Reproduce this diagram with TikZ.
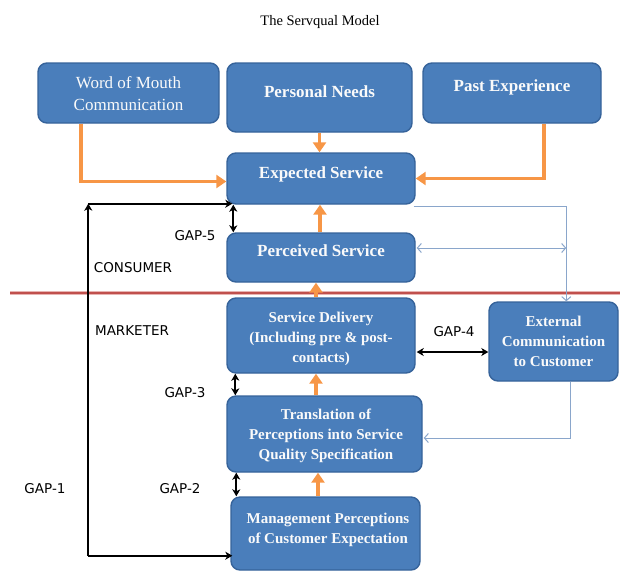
\documentclass[tikz,border=0pt]{standalone}
\usepackage{fontspec}
\setmainfont{Liberation Serif}
\newfontfamily\gapfont{DejaVu Sans}
\usetikzlibrary{arrows.meta,calc}
\definecolor{boxfill}{HTML}{4A7EBB}
\definecolor{boxdraw}{HTML}{36639A}
\definecolor{orng}{HTML}{F79646}
\definecolor{thinblue}{HTML}{8AA6CB}
\definecolor{redline}{HTML}{C0504D}
\definecolor{redglow}{HTML}{E8B4B2}
\definecolor{boxtext}{HTML}{FAFAFA}
\begin{document}
\begin{tikzpicture}[x=1pt,y=-1pt,
  box/.style={draw=boxdraw, line width=1.4pt, fill=boxfill, rounded corners=9pt, inner sep=0pt},
  regtxt/.style={text=boxtext, font=\fontsize{17}{22}\selectfont, align=center, inner sep=0pt},
  bigtxt/.style={text=boxtext, font=\fontsize{17}{21}\selectfont\bfseries, align=center, inner sep=0pt},
  smalltxt/.style={text=boxtext, font=\fontsize{15}{20}\selectfont\bfseries, align=center, inner sep=0pt},
  gaptxt/.style={text=black, font=\gapfont\fontsize{13.5}{16}\selectfont, inner sep=0pt},
  oarr/.style={draw=orng, line width=3.8pt, -{Triangle[length=10pt,width=13pt]}},
  blk/.style={draw=black, line width=1.8pt},
  btip/.style={-{Stealth[length=7pt,width=8pt,inset=2pt]}},
  bbtip/.style={{Stealth[length=7pt,width=8pt,inset=2pt]}-{Stealth[length=7pt,width=8pt,inset=2pt]}},
  thin/.style={draw=thinblue, line width=1pt},
  ttip/.style={-{Straight Barb[length=4pt,width=9pt]}},
  tttip/.style={{Straight Barb[length=4pt,width=9pt]}-{Straight Barb[length=4pt,width=9pt]}}
]
\useasboundingbox (0,0) rectangle (620,571);

% title
\node[font=\fontsize{14.5}{16}\selectfont, inner sep=0pt] (title) at (320,22) {The Servqual Model};

% separator line
\draw[redglow, line width=4pt] (10,293) -- (620,293);
\draw[redline, line width=1.8pt] (10,293) -- (620,293);

% boxes
\node[box, minimum width=181pt, minimum height=60pt] (wom) at (128.5,93) {};
\node[box, minimum width=185pt, minimum height=69pt] (pn) at (319.5,97.5) {};
\node[box, minimum width=178pt, minimum height=60pt] (pe) at (512,93) {};
\node[box, minimum width=188pt, minimum height=51pt] (es) at (321,178.5) {};
\node[box, minimum width=188pt, minimum height=49pt] (ps) at (321,257.5) {};
\node[box, minimum width=188pt, minimum height=75pt] (sd) at (321,335.5) {};
\node[box, minimum width=195pt, minimum height=76pt] (tr) at (324.5,434) {};
\node[box, minimum width=189pt, minimum height=73pt] (mp) at (325.5,533.5) {};
\node[box, minimum width=129pt, minimum height=79pt] (ec) at (553.5,341.5) {};

% box texts
\node[regtxt] (womt) at (128.5,94) {Word of Mouth\\Communication};
\node[bigtxt] (pnt) at (319.5,92) {Personal Needs};
\node[bigtxt] (pet) at (512,87) {Past Experience};
\node[bigtxt] (est) at (321,174) {Expected Service};
\node[bigtxt] (pst) at (321,251) {Perceived Service};
\node[smalltxt] (sdt) at (321,339) {Service Delivery\\(Including pre \& post-\\contacts)};
\node[smalltxt] (trt) at (326,435.5) {Translation of\\Perceptions into Service\\Quality Specification};
\node[smalltxt] (mpt) at (328,529.5) {Management Perceptions\\of Customer Expectation};
\node[smalltxt] (ect) at (553.5,341) {External\\Communication\\to Customer};

% gap labels
\node[gaptxt] (g5) at (195,236) {GAP-5};
\node[gaptxt] (cons) at (133,268) {CONSUMER};
\node[gaptxt] (mark) at (132,331) {MARKETER};
\node[gaptxt] (g4) at (454,332) {GAP-4};
\node[gaptxt] (g3) at (185,393) {GAP-3};
\node[gaptxt] (g2) at (180,489) {GAP-2};
\node[gaptxt] (g1) at (45,489) {GAP-1};

% orange arrows
\draw[oarr] ($(wom.south west)+(44,0)$) |- ($(es.west)+(0,3)$);
\draw[oarr] ($(pe.south west)+(122,0)$) |- (es.east);
\draw[oarr] (pn.south) -- (pn.south |- es.north);
\draw[oarr] ($(ps.north)+(-1,0)$) -- ($(es.south)+(-1,0)$);
\draw[oarr] ($(sd.north)+(-5,0)$) -- ($(ps.south)+(-5,0)$);
\draw[oarr] ($(tr.north)+(-8.5,0)$) -- ($(sd.south)+(-5,0)$);
\draw[oarr] ($(mp.north)+(-7.5,0)$) -- ($(tr.south)+(-6.5,0)$);

% GAP-1 connector
\coordinate (g1top) at ($(es.south west)+(-138,-1)$);
\coordinate (g1bot) at ($(mp.south west)+(-142,-15)$);
\draw[blk, btip] (g1bot) -- (g1top);
\draw[blk, btip] (g1top) -- ($(es.south west)+(6,-1)$);
\draw[blk, btip] (g1bot) -- ($(mp.south west)+(2,-15)$);

% other gap arrows
\draw[blk, bbtip] ($(es.south west)+(7,0)$) -- ($(ps.north west)+(7,0)$);
\draw[blk, bbtip] ($(sd.south west)+(9,0)$) -- ($(tr.north west)+(9,0)$);
\draw[blk, bbtip] ($(tr.south west)+(10,0)$) -- ($(mp.north west)+(6,0)$);
\draw[blk, bbtip] ($(sd.east)+(1,16.5)$) -- ($(ec.west)+(0,10.5)$);

% thin blue connectors
\coordinate (vx) at ($(ec.north west)+(78,0)$);
\draw[thin, ttip] ($(es.south east)+(-2,2)$) -| (vx);
\draw[thin, tttip] ($(ps.east)+(1,-9.5)$) -- (vx |- {$(ps.east)+(1,-9.5)$});
\draw[thin, ttip] ($(ec.south west)+(82,0)$) |- ($(tr.east)+(1,4)$);
\end{tikzpicture}
\end{document}
